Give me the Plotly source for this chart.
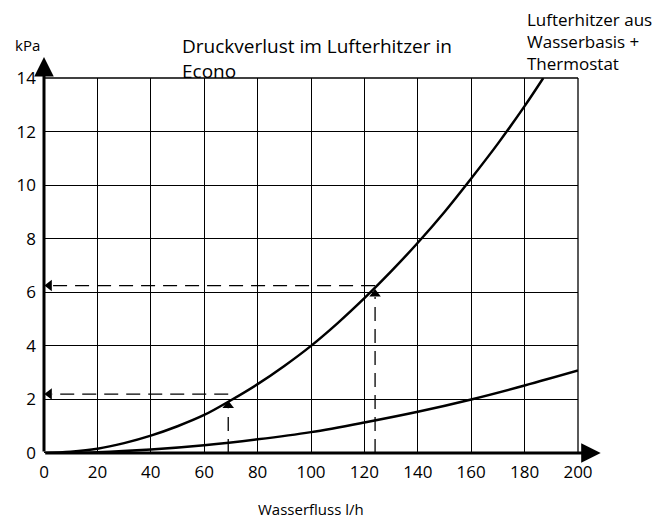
import plotly.graph_objects as go

# ---- data ----
flow_upper = [0, 10, 20, 30, 40, 50, 60, 70, 80, 90, 100, 110, 120, 130, 140, 150, 160, 170, 180, 187]
dp_upper = [0, 0.05, 0.16, 0.37, 0.65, 1.0, 1.42, 1.97, 2.57, 3.25, 4.0, 4.85, 5.78, 6.78, 7.85, 9.0, 10.25, 11.55, 12.95, 14.0]

flow_lower = [0, 20, 40, 60, 80, 100, 120, 140, 160, 180, 200]
dp_lower = [0, 0.03, 0.13, 0.29, 0.51, 0.78, 1.14, 1.54, 2.0, 2.52, 3.08]

# reading examples (flow, pressure at arrow tip, pressure of horizontal guide)
ex_flow = [69, 124]
ex_tip = [1.95, 6.12]
ex_guide = [2.2, 6.25]

x_ticks = [0, 20, 40, 60, 80, 100, 120, 140, 160, 180, 200]
y_ticks = [0, 2, 4, 6, 8, 10, 12, 14]

FONT = "Open Sans"

fig = go.Figure()
fig.add_trace(go.Scatter(x=flow_upper, y=dp_upper, mode="lines",
                         line=dict(color="black", width=2.5, shape="spline"),
                         showlegend=False, hoverinfo="skip"))
fig.add_trace(go.Scatter(x=flow_lower, y=dp_lower, mode="lines",
                         line=dict(color="black", width=2.5, shape="spline"),
                         showlegend=False, hoverinfo="skip"))

shapes = []
dash = "14px,8px"
for fx, tip, g in zip(ex_flow, ex_tip, ex_guide):
    shapes.append(dict(type="line", xref="x", yref="y", x0=fx, x1=fx, y0=0, y1=tip - 0.3,
                       line=dict(color="black", width=1.3, dash=dash)))
    shapes.append(dict(type="line", xref="x", yref="y", x0=fx, x1=3, y0=g, y1=g,
                       line=dict(color="black", width=1.3, dash=dash)))

# arrowheads of the reading examples
fig.add_trace(go.Scatter(x=ex_flow, y=[t - 0.18 for t in ex_tip], mode="markers",
                         marker=dict(symbol="triangle-up", size=10, color="black"),
                         cliponaxis=False, showlegend=False, hoverinfo="skip"))
fig.add_trace(go.Scatter(x=[2.0, 2.0], y=ex_guide, mode="markers",
                         marker=dict(symbol="triangle-left", size=10, color="black"),
                         cliponaxis=False, showlegend=False, hoverinfo="skip"))

# top and right border
shapes.append(dict(type="line", xref="paper", yref="paper", x0=0, x1=1, y0=1, y1=1,
                   line=dict(color="black", width=1.3)))
shapes.append(dict(type="line", xref="paper", yref="paper", x0=1, x1=1, y0=0, y1=1,
                   line=dict(color="black", width=1.3)))

annotations = [
    # x axis arrow
    dict(xref="paper", yref="paper", x=1.0425, y=0, ax=-557, ay=0, axref="pixel", ayref="pixel",
         text="", showarrow=True, arrowhead=2, arrowsize=1.3, arrowwidth=3, arrowcolor="black"),
    # y axis arrow
    dict(xref="paper", yref="paper", x=0, y=1.056, ax=0, ay=396, axref="pixel", ayref="pixel",
         text="", showarrow=True, arrowhead=2, arrowsize=1.3, arrowwidth=3, arrowcolor="black"),
    dict(xref="paper", yref="paper", x=-0.058, y=1.088, xanchor="left", yanchor="middle",
         text="kPa", showarrow=False, font=dict(family=FONT, size=15, color="black")),
    dict(xref="paper", yref="paper", x=0.2547, y=1.0515, xanchor="left", yanchor="middle", align="left",
         text="Druckverlust im Lufterhitzer in<br>Econo", showarrow=False,
         font=dict(family=FONT, size=19, color="black")),
    dict(xref="paper", yref="paper", x=0.9007, y=1.096, xanchor="left", yanchor="middle", align="left",
         text="Lufterhitzer aus<br>Wasserbasis +<br>Thermostat", showarrow=False,
         font=dict(family=FONT, size=17, color="black")),
    dict(xref="paper", yref="paper", x=0.5, y=-0.149, xanchor="center", yanchor="middle",
         text="Wasserfluss l/h", showarrow=False, font=dict(family=FONT, size=15, color="black")),
]

# the page adds an 8px body margin, so the margins are shifted by 8px
fig.update_layout(
    width=665, height=518,
    margin=dict(l=36, r=95, t=70, b=73),
    paper_bgcolor="white", plot_bgcolor="white",
    shapes=shapes, annotations=annotations,
    xaxis=dict(range=[0, 200], tickvals=x_ticks, ticktext=[str(v) for v in x_ticks],
               showgrid=True, gridcolor="black", gridwidth=1.2, zeroline=False, automargin=False,
               showline=False, ticks="", ticklabelstandoff=7,
               tickfont=dict(family=FONT, size=17, color="black")),
    yaxis=dict(range=[0, 14], tickvals=y_ticks, ticktext=[str(v) for v in y_ticks],
               showgrid=True, gridcolor="black", gridwidth=1.2, zeroline=False, automargin=False,
               showline=False, ticks="", ticklabelstandoff=7,
               tickfont=dict(family=FONT, size=17, color="black")),
)

fig.write_html("out.html")
